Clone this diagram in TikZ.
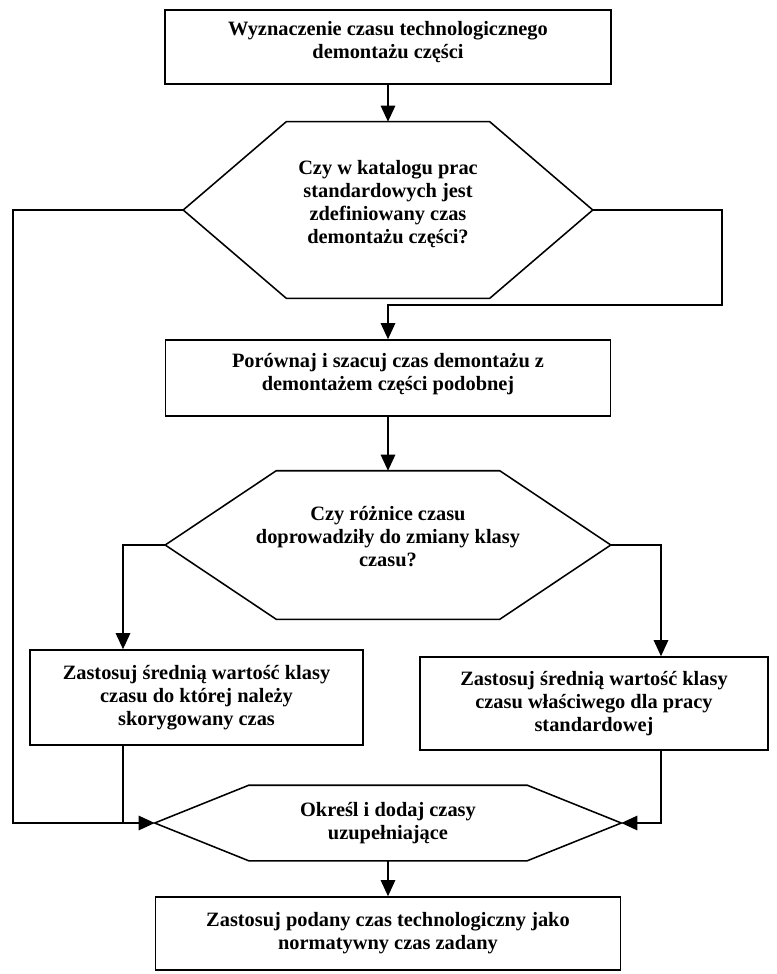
\documentclass[tikz,border=0pt]{standalone}
\usepackage{fontspec}
\setmainfont{Liberation Serif}
\usetikzlibrary{arrows.meta}
% hexagon drawn round an invisible node: #1 name, #2 slant
\newcommand{\hexframe}[2]{%
  \draw[ln] (#1.west) -- ([xshift=#2]#1.north west) -- ([xshift=-#2]#1.north east)
    -- (#1.east) -- ([xshift=-#2]#1.south east) -- ([xshift=#2]#1.south west) -- cycle;}

\begin{document}
\begin{tikzpicture}[x=0.25mm,y=-0.25mm,
  ln/.style={line width=1.1pt},
  box/.style={draw,ln,rectangle,inner sep=0pt,align=center,
              font=\bfseries\fontsize{14.5}{16.4}\selectfont},
  hex/.style={box,draw=none},
  lift/.style={text depth=#1},
  fl/.style={ln,-{Triangle[length=4mm,width=3.6mm]}}
]
  \useasboundingbox (0,0) rectangle (776,974);

  \node[box,lift=3.5mm,minimum width=111.5mm,minimum height=18.5mm] (start) at (388,47)
    {Wyznaczenie czasu technologicznego\\demontażu części};
  \node[hex,lift=4mm,minimum width=102mm,minimum height=43.75mm] (dec1) at (388,210)
    {Czy w katalogu prac\\standardowych jest\\zdefiniowany czas\\demontażu części?};
  \hexframe{dec1}{25.75mm}
  \node[box,lift=3.2mm,minimum width=111.25mm,minimum height=19mm] (cmp) at (388,378)
    {Porównaj i szacuj czas demontażu z\\demontażem części podobnej};
  \node[hex,lift=4.5mm,minimum width=111mm,minimum height=36.75mm] (dec2) at (388,545)
    {Czy różnice czasu\\doprowadziły do zmiany klasy\\czasu?};
  \hexframe{dec2}{27.75mm}
  \node[box,minimum width=83.25mm,minimum height=23.75mm] (avgL) at (196.5,697.5)
    {Zastosuj średnią wartość klasy\\czasu do której należy\\skorygowany czas};
  \node[box,minimum width=87mm,minimum height=23.25mm] (avgR) at (594,703.5)
    {Zastosuj średnią wartość klasy\\czasu właściwego dla pracy\\standardowej};
  \node[hex,minimum width=116.25mm,minimum height=18.5mm] (dec3) at (388,823)
    {Określ i dodaj czasy\\uzupełniające};
  \hexframe{dec3}{23.5mm}
  \node[box,minimum width=116.25mm,minimum height=18.25mm] (fin) at (388,933.5)
    {Zastosuj podany czas technologiczny jako\\normatywny czas zadany};

  \coordinate (lft) at (13,0);
  \coordinate (rgt) at (722,305);
  \coordinate (l2) at (123,0);
  \coordinate (r2) at (661,0);

  \draw[fl] (start) -- (dec1);
  \draw[fl] (dec1.west) -| (lft |- dec3.west) -- (dec3.west);
  \draw[fl] (dec1.east) -| (rgt) -| (cmp.north);
  \draw[fl] (cmp) -- (dec2);
  \draw[fl] (dec2.west) -| (l2 |- avgL.north);
  \draw[fl] (dec2.east) -| (r2 |- avgR.north);
  \draw[ln] (l2 |- avgL.south) -- (l2 |- dec3.west);
  \draw[fl] (r2 |- avgR.south) |- (dec3.east);
  \draw[fl] (dec3) -- (fin);
\end{tikzpicture}
\end{document}
